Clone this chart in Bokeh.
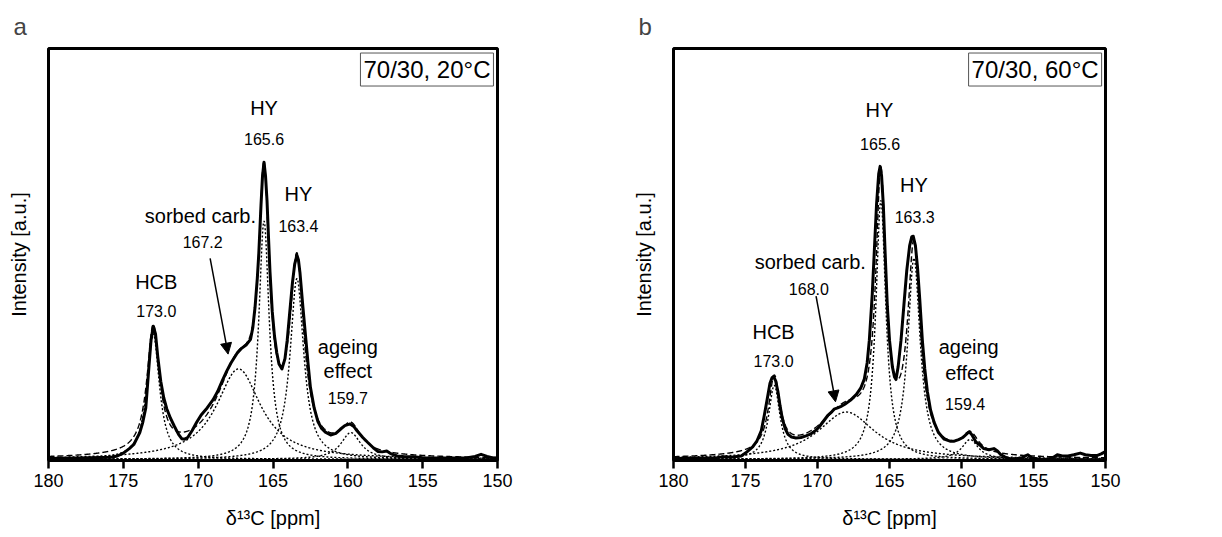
import numpy as np
from bokeh.plotting import figure
from bokeh.models import Range1d, Label, Arrow, NormalHead, FixedTicker
from bokeh.layouts import row
from bokeh.embed import file_html
from bokeh.resources import INLINE

FONT = "Liberation Sans"
X_TICKS = [180, 175, 170, 165, 160, 155, 150]

# ---------------- panel a : 70/30, 20 C ----------------
A_PPM = [180.0, 178.0, 176.5, 175.8, 175.4, 175.0, 174.6, 174.3, 173.9, 173.7, 173.5, 173.3,
         173.15, 173.0, 172.85, 172.7, 172.5, 172.3, 172.1, 171.85, 171.6, 171.3, 171.1, 170.9,
         170.7, 170.4, 170.1, 169.8, 169.4, 169.0, 168.7, 168.4, 168.1, 167.8, 167.4, 167.1,
         166.8, 166.5, 166.35, 166.2, 166.05, 165.95, 165.8, 165.7, 165.6, 165.5, 165.4, 165.3,
         165.2, 165.05, 164.9, 164.75, 164.6, 164.4, 164.2, 164.05, 163.9, 163.7, 163.55, 163.4,
         163.3, 163.2, 163.0, 162.8, 162.65, 162.5, 162.25, 162.0, 161.75, 161.5, 161.15, 160.8,
         160.5, 160.2, 159.85, 159.6, 159.4, 159.0, 158.7, 158.3, 158.0, 157.7, 157.4, 157.1,
         156.7, 156.2, 155.6, 155.0, 154.0, 153.0, 152.0, 151.5, 151.1, 150.7, 150.3, 150.0]
A_INT = [0.2, 0.3, 0.4, 0.5, 0.8, 1.5, 2.6, 3.6, 6.5, 9.0, 12.5, 22.0,
         29.0, 32.4, 30.5, 25.0, 19.0, 15.0, 12.3, 10.0, 8.1, 6.0, 5.0, 4.9,
         5.3, 7.0, 9.0, 10.8, 12.5, 14.5, 16.5, 19.0, 21.4, 23.5, 25.8, 27.0,
         27.8, 29.2, 32.0, 37.0, 44.0, 50.0, 62.0, 69.0, 72.3, 69.0, 63.0, 54.0,
         45.6, 36.0, 30.0, 26.0, 23.2, 22.0, 24.5, 29.0, 35.0, 43.0, 47.5, 49.7,
         48.5, 45.5, 37.0, 29.0, 23.0, 17.5, 12.5, 9.2, 7.5, 6.6, 5.9, 6.3,
         7.3, 8.2, 8.6, 8.0, 7.0, 5.3, 4.2, 2.8, 1.9, 1.8, 2.0, 1.3,
         0.8, 0.6, 0.6, 0.4, 0.3, 0.3, 0.4, 0.7, 1.2, 0.7, 0.3, 0.3]
A_CENTERS = [173.0, 167.3, 165.6, 163.4, 159.8]
A_HEIGHTS = [30.5, 22.0, 58.0, 44.0, 6.5]
A_HWHM = [0.5, 1.8, 0.42, 0.55, 0.8]
A_LABELS = ["HY", "165.6", "HY", "163.4", "sorbed carb.", "167.2", "HCB", "173.0",
            "ageing", "effect", "159.7"]
A_LABEL_X = [165.6, 165.6, 163.3, 163.3, 169.85, 169.7, 172.8, 172.8, 160.0, 160.0, 160.0]
A_LABEL_Y = [85.5, 78.0, 64.7, 56.8, 59.3, 52.9, 43.2, 36.2, 27.3, 21.4, 14.8]
A_ARROW = (169.2, 48.9, 168.0, 25.6)

# ---------------- panel b : 70/30, 60 C ----------------
B_PPM = [180.0, 178.0, 177.0, 176.5, 176.0, 175.6, 175.3, 174.9, 174.5, 174.2, 173.9, 173.7,
         173.5, 173.3, 173.15, 173.05, 172.9, 172.75, 172.6, 172.45, 172.25, 172.05, 171.8, 171.5,
         171.15, 170.8, 170.5, 170.2, 169.9, 169.6, 169.3, 169.05, 168.85, 168.6, 168.4, 168.1,
         167.7, 167.3, 167.0, 166.75, 166.55, 166.4, 166.2, 166.05, 165.9, 165.75, 165.65, 165.55,
         165.43, 165.3, 165.15, 165.0, 164.8, 164.65, 164.55, 164.4, 164.2, 164.0, 163.8, 163.6,
         163.45, 163.35, 163.2, 163.05, 162.9, 162.72, 162.55, 162.37, 162.15, 161.9, 161.6, 161.2,
         160.8, 160.5, 160.2, 159.9, 159.6, 159.45, 159.25, 159.0, 158.7, 158.45, 158.1, 157.75,
         157.5, 157.3, 157.0, 156.6, 156.2, 155.8, 155.4, 155.1, 154.6, 154.0, 153.6, 153.35,
         153.0, 152.6, 152.2, 151.75, 151.4, 151.0, 150.6, 150.3, 150.0]
B_INT = [0.2, 0.3, 0.4, 0.6, 0.5, 0.7, 0.8, 1.8, 3.0, 4.5, 7.0, 10.6,
         14.5, 18.5, 19.9, 20.2, 19.0, 16.5, 13.0, 10.0, 7.5, 6.1, 5.4, 5.2,
         5.3, 5.7, 6.1, 6.8, 7.8, 9.2, 10.6, 11.4, 12.2, 12.5, 12.8, 13.4,
         14.4, 15.8, 17.3, 19.5, 23.5, 29.0, 40.0, 51.0, 62.0, 69.5, 71.3, 69.0,
         62.0, 50.0, 37.2, 29.0, 22.5, 20.0, 19.4, 22.5, 29.0, 37.5, 46.0, 52.0,
         54.2, 54.3, 52.0, 46.5, 39.0, 29.0, 22.0, 16.5, 12.0, 9.0, 6.5, 4.9,
         4.4, 4.4, 4.8, 5.3, 6.3, 6.7, 5.8, 4.2, 3.4, 2.6, 2.3, 2.6,
         2.0, 1.2, 0.6, 0.0, 0.1, 0.4, 1.1, 0.3, 0.0, 0.0, 0.5, 1.1,
         0.8, 0.8, 1.1, 1.5, 1.1, 0.9, 0.9, 1.3, 1.9]
B_CENTERS = [173.0, 168.0, 165.6, 163.3, 159.4]
B_HEIGHTS = [18.0, 11.5, 63.0, 49.0, 4.8]
B_HWHM = [0.48, 2.4, 0.42, 0.52, 0.7]
B_LABELS = ["HY", "165.6", "HY", "163.3", "sorbed carb.", "168.0", "HCB", "173.0",
            "ageing", "effect", "159.4"]
B_LABEL_X = [165.7, 165.65, 163.3, 163.25, 170.5, 170.6, 173.05, 173.05, 159.5, 159.45, 159.75]
B_LABEL_Y = [85.0, 76.7, 66.7, 59.0, 48.0, 41.4, 31.0, 23.9, 27.3, 21.0, 13.5]
B_ARROW = (170.1, 39.7, 168.75, 14.0)

LABEL_SIZES = ["20px", "16px", "20px", "16px", "20px", "16px", "20px", "16px",
               "20px", "20px", "16px"]


def lorentz(x, c, h, w):
    return h / (1.0 + ((x - c) / w) ** 2)


def make_panel(letter, box_text, ppm, inten, centers, heights, hwhm,
               labels, lx, ly, arrow, border_left, frame_w, border_right):
    p = figure(frame_width=frame_w, frame_height=412,
               min_border_left=border_left, min_border_right=border_right,
               min_border_top=48, min_border_bottom=74,
               x_range=Range1d(180, 150), y_range=Range1d(-0.3, 100),
               output_backend="svg", toolbar_location=None,
               background_fill_color="white", border_fill_color="white")
    p.grid.visible = False
    p.outline_line_color = "black"
    p.outline_line_width = 3
    p.outline_line_alpha = 1.0

    p.title.text = letter
    p.title.text_font = FONT
    p.title.text_font_size = "24px"
    p.title.text_font_style = "normal"
    p.title.align = "left"
    p.title.offset = -35
    p.title.standoff = 18

    xa = p.xaxis[0]
    xa.ticker = FixedTicker(ticks=X_TICKS)
    xa.minor_tick_line_color = None
    xa.major_tick_in = 0
    xa.major_tick_out = 8
    xa.major_tick_line_width = 2.5
    xa.axis_line_width = 3
    xa.major_label_text_font = FONT
    xa.major_label_text_font_size = "18px"
    xa.major_label_text_color = "black"
    xa.major_label_standoff = 5
    xa.axis_label = "δ¹³C [ppm]"
    xa.axis_label_text_font = FONT
    xa.axis_label_text_font_size = "20px"
    xa.axis_label_text_font_style = "normal"
    xa.axis_label_text_color = "black"
    xa.axis_label_standoff = 17

    ya = p.yaxis[0]
    ya.ticker = FixedTicker(ticks=[])
    ya.axis_line_color = None
    ya.major_tick_line_color = None
    ya.minor_tick_line_color = None
    ya.major_label_text_font_size = "0px"
    ya.axis_label = "Intensity [a.u.]"
    ya.axis_label_text_font = FONT
    ya.axis_label_text_font_size = "20px"
    ya.axis_label_text_font_style = "normal"
    ya.axis_label_text_color = "black"
    ya.axis_label_standoff = 19

    grid = np.linspace(180, 150, 1201)
    total = np.zeros_like(grid)
    for c, h, w in zip(centers, heights, hwhm):
        comp = lorentz(grid, c, h, w)
        total += comp
        p.line(grid, comp, line_color="black", line_width=1.4, line_dash="2 2")
    p.line(grid, total, line_color="black", line_width=1.4, line_dash="6 3")
    p.line(ppm, inten, line_color="black", line_width=3, line_join="round")

    for t, x, y, s in zip(labels, lx, ly, LABEL_SIZES):
        p.add_layout(Label(x=x, y=y, text=t, text_align="center", text_baseline="middle",
                           text_font=FONT, text_font_size=s, text_color="black"))

    p.add_layout(Arrow(end=NormalHead(size=11, fill_color="black", line_color="black"),
                       x_start=arrow[0], y_start=arrow[1], x_end=arrow[2], y_end=arrow[3],
                       line_color="black", line_width=1.5))

    p.add_layout(Label(x=150.27, y=98.9, text=box_text, text_align="right",
                       text_baseline="top", text_font=FONT, text_font_size="24px",
                       text_color="black", border_line_color="#555555",
                       border_line_width=1, background_fill_color="white", padding=3))
    return p


pa = make_panel("a", "70/30, 20°C", A_PPM, A_INT, A_CENTERS, A_HEIGHTS, A_HWHM,
                A_LABELS, A_LABEL_X, A_LABEL_Y, A_ARROW, 48, 449, 103)
pb = make_panel("b", "70/30, 60°C", B_PPM, B_INT, B_CENTERS, B_HEIGHTS, B_HWHM,
                B_LABELS, B_LABEL_X, B_LABEL_Y, B_ARROW, 73, 432, 110)

layout = row(pa, pb)
open("out.html", "w").write(file_html(layout, INLINE))
